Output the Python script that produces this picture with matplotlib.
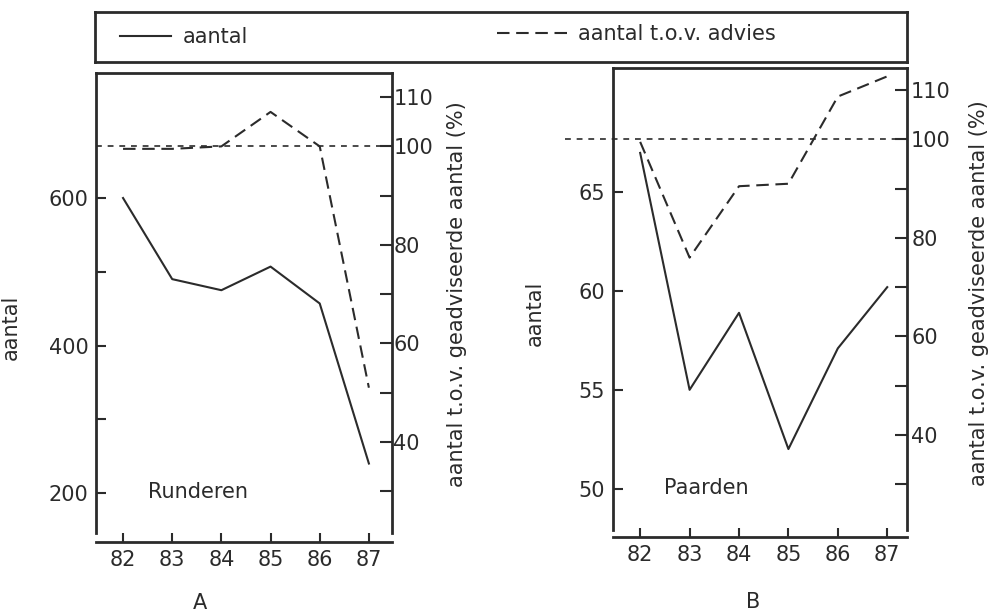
import numpy as np
from matplotlib import pyplot as plt

plt.rcParams['font.family'] = ['DejaVu Sans']
plt.rcParams['font.size'] = 15

jaren = [82, 83, 84, 85, 86, 87]
jaarLabels = ["82", "83", "84", "85", "86", "87"]

runderenAantal = [600, 490, 475, 507, 457, 240]
runderenAdvies = [99.5, 99.5, 100, 107, 100, 51]

paardenAantal = [67, 55, 58.9, 52, 57.1, 60.2]
paardenAdvies = [99.5, 76, 90.5, 91, 108.7, 112.8]

ink = "#2b2b2b"

fig = plt.figure(figsize=(9.89, 6.15), dpi=100)


def panel(rect, xlim, ylim, ylim2, yticks, ylabels, aantal, advies, naam, refLeft,
          labelX, labelX2, labelY, labelY2, bottomOffset, padRight):
    ax = fig.add_axes(rect)
    ax2 = ax.twinx()

    lineSolid, = ax.plot(jaren, aantal, color=ink, linewidth=1.5, linestyle="-")
    lineDash, = ax2.plot(jaren, advies, color=ink, linewidth=1.5, linestyle=(0, (6, 3.2)))
    ax2.axhline(100, xmin=refLeft, xmax=1, color=ink, linewidth=1.2,
                linestyle=(0, (3.5, 3.5)), clip_on=False)

    ax.set_xlim(xlim)
    ax.set_ylim(ylim)
    ax2.set_ylim(ylim2)

    ax.set_xticks(jaren)
    ax.set_xticklabels(jaarLabels)
    ax.set_yticks(yticks)
    ax.set_yticklabels(ylabels)
    ax2.set_yticks([30, 40, 50, 60, 70, 80, 90, 100, 110])
    ax2.set_yticklabels(["", "40", "", "60", "", "80", "", "100", "110"])

    ax.tick_params(axis="x", direction="in", length=6.5, width=1.5, pad=6, colors=ink)
    ax.tick_params(axis="y", direction="in", length=7, width=1.5, pad=5.5, colors=ink)
    ax2.tick_params(axis="y", direction="in", length=8.5, width=1.5, pad=padRight, colors=ink)

    for s in ["left", "top", "bottom"]:
        ax.spines[s].set_linewidth(2)
        ax.spines[s].set_color(ink)
    ax.spines["right"].set_visible(False)
    ax.spines["bottom"].set_position(("outward", bottomOffset))
    for s in ["left", "top", "bottom"]:
        ax2.spines[s].set_visible(False)
    ax2.spines["right"].set_linewidth(2)
    ax2.spines["right"].set_color(ink)

    ax.set_ylabel("aantal", color=ink)
    ax.yaxis.set_label_coords(labelX, labelY)
    ax2.set_ylabel("aantal t.o.v. geadviseerde aantal (%)", color=ink)
    ax2.yaxis.set_label_coords(labelX2, labelY2)

    ax.text(0.175, 0.09, naam, transform=ax.transAxes, va="center", ha="left", color=ink)
    return lineSolid, lineDash


lineSolid, lineDash = panel([96 / 989, 1 - 533 / 615, 296 / 989, 460 / 615],
                            (81.45, 87.47), (145.8, 769.5), (21.5, 114.9),
                            [200, 300, 400, 500, 600], ["200", "", "400", "", "600"],
                            runderenAantal, runderenAdvies, "Runderen", 0,
                            -0.253, 1.186, 0.448, 0.52, 6.5, 1)

panel([613 / 989, 1 - 530 / 615, 294 / 989, 462 / 615],
      (81.45, 87.4), (47.9, 71.3), (20.7, 114.5),
      [50, 55, 60, 65], ["50", "55", "60", "65"],
      paardenAantal, paardenAdvies, "Paarden", -0.163,
      -0.231, 1.211, 0.468, 0.512, 5, 3)

# legend box on top
box = fig.add_axes([95 / 989, 1 - 62 / 615, 812 / 989, 50 / 615])
box.set_xticks([])
box.set_yticks([])
for s in box.spines.values():
    s.set_linewidth(2)
    s.set_color(ink)

fig.legend([lineSolid], ["aantal"], loc="center left", bbox_to_anchor=(120 / 989, 1 - 37 / 615),
           frameon=False, borderpad=0, borderaxespad=0, handlelength=2.43, handletextpad=0.57,
           labelcolor=ink)
fig.legend([lineDash], ["aantal t.o.v. advies"], loc="center left", bbox_to_anchor=(497 / 989, 1 - 34 / 615),
           frameon=False, borderpad=0, borderaxespad=0, handlelength=3.57, handletextpad=0.33,
           labelcolor=ink)

fig.text(200 / 989, 1 - 603 / 615, "A", ha="center", va="center", color=ink)
fig.text(753 / 989, 1 - 602 / 615, "B", ha="center", va="center", color=ink)

plt.savefig("out.png", dpi=100)
